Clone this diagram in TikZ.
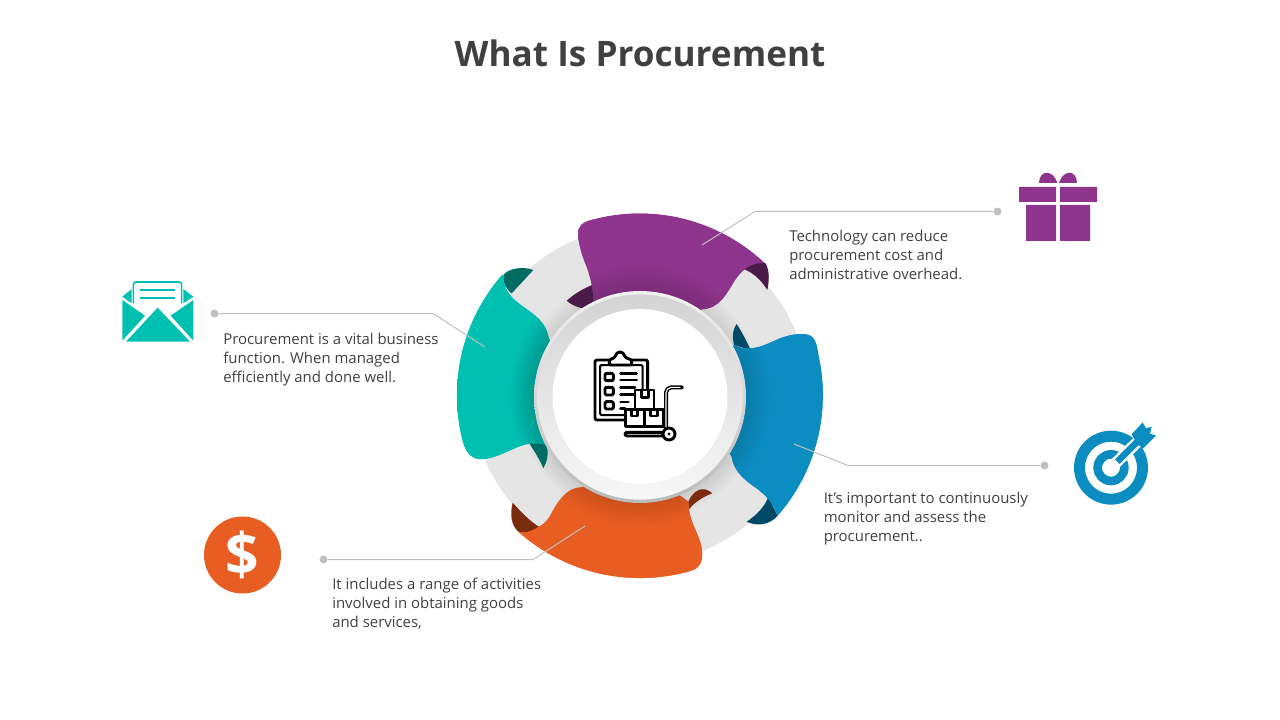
\documentclass[tikz,border=0pt]{standalone}
\usepackage{fontspec}
\setmainfont{Open Sans}
\definecolor{purp}{HTML}{8E348C}\definecolor{purpD}{HTML}{7C2C7A}\definecolor{purpF}{HTML}{4A1A49}
\definecolor{teal}{HTML}{00C0B2}\definecolor{tealD}{HTML}{009A8F}\definecolor{tealF}{HTML}{006B63}
\definecolor{blu}{HTML}{0B8DC1}\definecolor{bluD}{HTML}{0A7BA8}\definecolor{bluF}{HTML}{004A68}
\definecolor{oran}{HTML}{E85D22}\definecolor{oranD}{HTML}{CC4F1B}\definecolor{oranF}{HTML}{7A2C0D}
\definecolor{txt}{HTML}{404040}\definecolor{leader}{HTML}{BFBFBF}
\pgfdeclareradialshading{shP}{\pgfpointorigin}{color(0bp)=(purpD);color(14.5bp)=(purpD);color(18bp)=(purp);color(50bp)=(purp)}
\pgfdeclareradialshading{shT}{\pgfpointorigin}{color(0bp)=(tealD);color(14.5bp)=(tealD);color(18bp)=(teal);color(50bp)=(teal)}
\pgfdeclareradialshading{shB}{\pgfpointorigin}{color(0bp)=(bluD);color(14.5bp)=(bluD);color(18bp)=(blu);color(50bp)=(blu)}
\pgfdeclareradialshading{shO}{\pgfpointorigin}{color(0bp)=(oranD);color(14.5bp)=(oranD);color(18bp)=(oran);color(50bp)=(oran)}
\pgfdeclareradialshading{shHalo}{\pgfpointorigin}{color(0bp)=(black!20);color(21bp)=(black!20);color(25bp)=(black!10);color(50bp)=(black!10)}
\tikzset{
 zoomed/.style={shift={#1},x=0.25pt,y=-0.25pt},
 para/.style={anchor=west,inner sep=0pt,align=left,text=txt,font=\fontsize{11.2pt}{14.25pt}\selectfont},
 dotnode/.style={circle,fill=leader,inner sep=0pt,minimum size=6pt},
 leaderline/.style={draw=leader,line width=0.75pt},
 iconline/.style={line width=2.2pt,draw=black,line join=round,line cap=round},
}
\def\pathP{(414,105) .. controls (412,78) and (430,65) .. (455,60) arc[start angle=254.7,end angle=313.4,radius=546] .. controls (950,185) and (915,195) .. (885,240) .. controls (860,280) and (840,325) .. (785,328) -- (600,400) -- (460,320) .. controls (462,280) and (455,240) .. (440,200) .. controls (425,165) and (416,130) .. (414,105) -- cycle}
\def\pathT{(188,223) arc[start angle=221.4,end angle=165.8,radius=549] .. controls (76,755) and (95,782) .. (130,777) .. controls (185,772) and (225,735) .. (275,730) .. controls (295,728) and (312,732) .. (325,738) -- (400,600) -- (325,410) .. controls (315,355) and (265,335) .. (230,305) .. controls (205,285) and (190,260) .. (188,223) -- cycle}
\def\pathB{(882,435) .. controls (930,460) and (975,435) .. (1020,415) .. controls (1055,402) and (1100,395) .. (1118,412) .. controls (1130,425) and (1133,445) .. (1135,465) arc[start angle=-12.7,end angle=41.2,radius=549] .. controls (1000,905) and (975,885) .. (950,865) .. controls (920,845) and (880,815) .. (875,770) -- (760,600) -- cycle}
\def\pathO{(235,995) arc[start angle=131.7,end angle=74.2,radius=549] .. controls (785,1105) and (790,1075) .. (785,1045) .. controls (778,1000) and (745,965) .. (745,905) -- (600,800) -- (425,862) .. controls (385,862) and (360,895) .. (340,930) .. controls (325,958) and (315,972) .. (297,980) .. controls (270,998) and (250,1000) .. (235,995) -- cycle}
\newcommand{\ribbonfill}[3]{\fill[#2] #1; \begin{scope}\clip #1; \shade[shading=#3] (600,586) circle (137.25pt);\end{scope}}
\begin{document}
\begin{tikzpicture}[x=0.75pt,y=-0.75pt]
\useasboundingbox (0,0) rectangle (1280,720);
\node[inner sep=0pt,text=txt,font=\fontsize{26.35pt}{30pt}\selectfont\bfseries] (title) at (640,53) {What Is Procurement};
% ring
\fill[black!10] (640,395) circle (126pt);
\shade[shading=shHalo] (640,397) circle (94pt);
% ribbons
\begin{scope}[zoomed={(440,200)}]
\fill[purpF] (380,302) .. controls (405,280) and (435,262) .. (470,250) -- (470,300) .. controls (455,315) and (445,323) .. (435,325) .. controls (415,325) and (395,315) .. (380,302) -- cycle;
\fill[purpF] (905,205) .. controls (925,185) and (960,183) .. (977,190) .. controls (990,215) and (987,245) .. (982,270) .. controls (960,235) and (935,215) .. (905,205) -- cycle;
\fill[tealF] (190,225) .. controls (205,205) and (250,198) .. (280,210) -- (215,280) .. controls (195,265) and (188,245) .. (190,225) -- cycle;
\fill[tealF] (265,725) -- (320,730) .. controls (328,770) and (318,790) .. (310,805) .. controls (298,775) and (280,750) .. (265,725) -- cycle;
\fill[bluF] (882,435) .. controls (875,405) and (880,385) .. (890,372) .. controls (905,395) and (918,420) .. (932,450) -- cycle;
\fill[bluF] (985,890) -- (1013,947) .. controls (990,975) and (950,980) .. (920,965) .. controls (950,945) and (975,920) .. (985,890) -- cycle;
\fill[oranF] (218,908) .. controls (260,955) and (280,970) .. (300,982) .. controls (270,998) and (250,1000) .. (235,995) .. controls (212,975) and (210,940) .. (218,908) -- cycle;
\fill[oranF] (745,905) .. controls (760,870) and (790,855) .. (817,880) .. controls (790,890) and (765,905) .. (745,930) -- cycle;
\ribbonfill{\pathP}{purp}{shP}
\ribbonfill{\pathT}{teal}{shT}
\ribbonfill{\pathB}{blu}{shB}
\ribbonfill{\pathO}{oran}{shO}
\end{scope}
% central disc
\shade[top color=black!5,bottom color=black!27] (640,397) circle (79.5pt);
\shade[top color=black!17,bottom color=black!3] (640,397) circle (77pt);
\fill[white] (640,396.5) circle (65.6pt);
% clipboard icon
\begin{scope}[zoomed={(580,340)},iconline]
\draw[rounded corners=1.5pt] (135,240) -- (45,240) -- (45,60) -- (203,60) -- (203,150);
\draw[rounded corners=1pt,line width=1.5pt] (135,225) -- (60,225) -- (60,75) -- (188,75) -- (188,150);
\draw[fill=white,rounded corners=1pt] (88,75) -- (88,60) -- (105,52) .. controls (110,32) and (130,32) .. (135,52) -- (155,60) -- (155,75) -- cycle;
\draw[rounded corners=1pt] (75,100) rectangle (100,122) (75,142) rectangle (100,165) (75,185) rectangle (100,207);
\draw (122,100) -- (170,100) (122,120) -- (170,120) (122,143) -- (165,143) (122,163) -- (165,163) (122,186) -- (145,186) (122,205) -- (135,205);
\draw[fill=white] (165,150) rectangle (222,208);
\draw (185,150) -- (185,172) -- (205,172) -- (205,150);
\draw[fill=white] (137,208) rectangle (193,260);
\draw (155,208) -- (155,228) -- (173,228) -- (173,208);
\draw[fill=white] (193,208) rectangle (250,260);
\draw (212,208) -- (212,228) -- (232,228) -- (232,208);
\draw[rounded corners=4pt,line width=3pt] (258,268) -- (258,142) -- (305,142);
\draw[white,line width=0.8pt,rounded corners=4pt] (258,262) -- (258,142) -- (300,142);
\draw[fill=white,rounded corners=1.5pt] (135,277) rectangle (250,288);
\draw[fill=white] (267,282) circle (4.5pt);
\fill (267,282) circle (1.3pt);
\end{scope}
% gift
\begin{scope}[zoomed={(1000,160)},purp]
\fill (57,81) rectangle (168,126) (180,81) rectangle (291,126) (78,135) rectangle (168,243) (180,135) rectangle (270,243);
\fill (117,69) .. controls (118,28) and (160,28) .. (172,69) -- cycle;
\fill (177,69) .. controls (190,28) and (230,28) .. (231,69) -- cycle;
\end{scope}
% target
\begin{scope}[zoomed={(1060,415)}]
\draw[blu,line width=8.25pt] (153,158) circle (23.6pt);
\draw[blu,line width=6.5pt] (153,158) circle (10pt);
\draw[white,line width=8.5pt] (153,158) -- (300,15);
\draw[blu,line width=5pt] (172,140) -- (240,72);
\fill[blu] (215,58) -- (248,22) -- (258,40) -- (275,35) -- (270,56) -- (288,62) -- (250,100) -- (232,88) -- cycle;
\end{scope}
% envelope
\begin{scope}[zoomed={(110,270)},teal]
\fill (37,80) -- (65,57) -- (65,100) -- cycle;
\fill (220,57) -- (250,80) -- (220,100) -- cycle;
\draw[line width=1.2pt,rounded corners=2pt] (70,100) -- (70,36) -- (215,36) -- (215,100);
\draw[line width=1.5pt] (90,60) -- (195,60) (90,83) -- (195,83);
\fill (37,90) -- (105,137) -- (37,212) -- cycle;
\fill (250,90) -- (182,137) -- (250,212) -- cycle;
\fill (143,113) -- (240,215) -- (48,215) -- cycle;
\end{scope}
% dollar
\node[circle,fill=oran,inner sep=0pt,minimum size=57.75pt,text=white,font=\fontsize{44pt}{44pt}\selectfont\bfseries] (dollar) at (242.5,555) {\$};
% leaders
\node[dotnode] (dot1) at (214.5,313.5) {};
\coordinate (bend1) at (433,313.5);
\coordinate (end1) at (485,347);
\draw[leaderline] (dot1) -- (bend1) -- (end1);
\node[dotnode] (dot2) at (997.5,211.5) {};
\coordinate (bend2) at (755,211.5);
\coordinate (end2) at (702,245);
\draw[leaderline] (dot2) -- (bend2) -- (end2);
\node[dotnode] (dot3) at (1044.5,465.5) {};
\coordinate (bend3) at (848,465.5);
\coordinate (end3) at (794,444);
\draw[leaderline] (dot3) -- (bend3) -- (end3);
\node[dotnode] (dot4) at (323.5,559.5) {};
\coordinate (bend4) at (533,559.5);
\coordinate (end4) at (585,526);
\draw[leaderline] (dot4) -- (bend4) -- (end4);
% texts
\node[para] (t1) at (223,359.5) {Procurement is a vital business\\function. When managed\\efficiently and done well.};
\node[para] (t2) at (789,254.5) {Technology can reduce\\procurement cost and\\administrative overhead.};
\node[para] (t3) at (823.5,518.5) {It’s important to continuously\\monitor and assess the\\procurement..};
\node[para] (t4) at (332,603.5) {It includes a range of activities\\involved in obtaining goods\\and services,};
\end{tikzpicture}
\end{document}
